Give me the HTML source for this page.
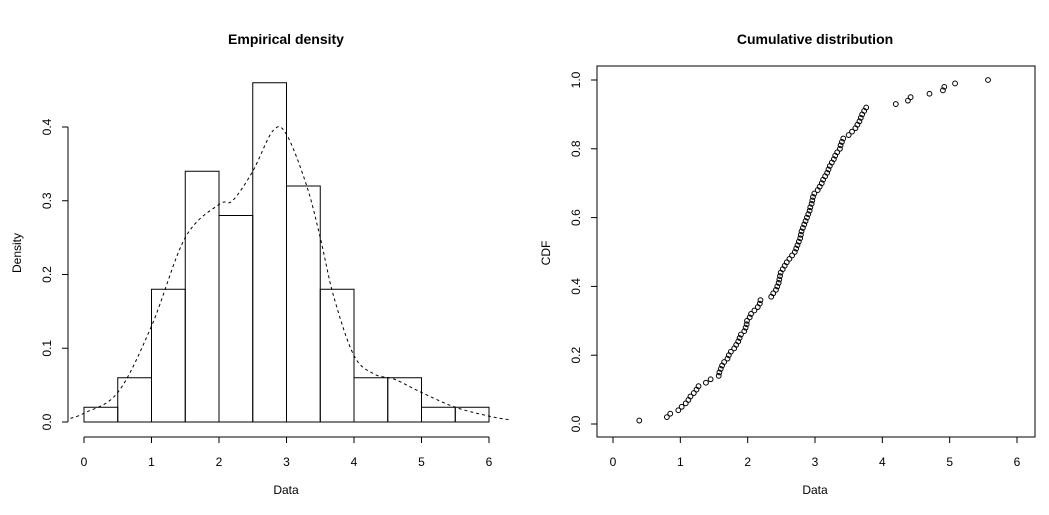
<!DOCTYPE html>
<html><head><meta charset="utf-8"><style>
body{margin:0;background:#fff}
svg text{font-family:"Liberation Sans",sans-serif;fill:#000}
</style></head><body>
<svg width="1049" height="510" viewBox="0 0 1049 510" id="fig"></svg>
<script>
// Histogram data
const binEdges=[0,0.5,1,1.5,2,2.5,3,3.5,4,4.5,5,5.5,6];
const densities=[0.02,0.06,0.18,0.34,0.28,0.46,0.32,0.18,0.06,0.06,0.02,0.02];
const kdeX=[-0.2,0,0.5,1,1.5,2,2.2,2.5,2.8,3,3.3,3.5,3.7,4,4.3,4.6,5,5.5,6,6.3];
const kdeY=[0.005,0.012,0.04,0.13,0.25,0.295,0.30,0.34,0.395,0.39,0.32,0.25,0.17,0.09,0.065,0.058,0.04,0.02,0.008,0.003];
const xTicks=[0,1,2,3,4,5,6];
const densTicks=[0.0,0.1,0.2,0.3,0.4];
const cdfTicks=[0.0,0.2,0.4,0.6,0.8,1.0];
// sorted sample for ECDF
const sample=[0.39,0.8,0.85,0.97,1.02,1.08,1.12,1.15,1.2,1.24,1.27,1.38,1.45,
1.57,1.58,1.6,1.62,1.65,1.7,1.72,1.75,1.8,1.83,1.86,1.88,1.9,1.95,1.97,1.985,1.99,
2.03,2.05,2.1,2.15,2.18,2.19,2.35,2.38,2.42,2.44,2.46,2.47,2.48,2.49,
2.52,2.55,2.58,2.62,2.66,2.7,2.72,2.74,2.76,2.78,2.79,2.8,2.82,2.84,2.86,2.88,2.9,2.92,2.93,2.95,2.96,2.97,2.99,
3.04,3.07,3.1,3.12,3.15,3.18,3.2,3.22,3.25,3.28,3.3,3.33,3.37,3.38,3.4,3.42,
3.5,3.55,3.6,3.63,3.66,3.68,3.7,3.73,3.76,
4.2,4.38,4.42,4.7,4.9,4.92,5.08,5.57];

const svg=document.getElementById('fig');
const NS='http://www.w3.org/2000/svg';
function mk(tag,attrs,parent,text){const e=document.createElementNS(NS,tag);for(const k in attrs)e.setAttribute(k,attrs[k]);if(text!==undefined)e.textContent=text;(parent||svg).appendChild(e);return e;}

// Left panel scales
const lx=v=>84+v*(489-84)/6;
const ly=v=>422-v*(422-127)/0.4;
// Right panel scales
const rx=v=>613+v*(1017-613)/6;
const ry=v=>424-v*(424-80);

// ---- Left panel
const gL=mk('g',{});


let t=mk('text',{x:286,y:44,'text-anchor':'middle','font-size':14,'font-weight':'bold'},gL,'Empirical density');

densities.forEach((d,i)=>{
  const r=mk('rect',{x:lx(binEdges[i]),y:ly(d),width:lx(binEdges[i+1])-lx(binEdges[i]),height:ly(0)-ly(d),fill:'none',stroke:'#000','stroke-width':1},gL);
  
  
});
// smooth kde
function smoothPath(xs,ys,fx,fy){
  const p=xs.map((x,i)=>[fx(x),fy(ys[i])]);
  let d='M'+p[0][0]+','+p[0][1];
  for(let i=0;i<p.length-1;i++){
    const p0=p[Math.max(0,i-1)],p1=p[i],p2=p[i+1],p3=p[Math.min(p.length-1,i+2)];
    const c1=[p1[0]+(p2[0]-p0[0])/6,p1[1]+(p2[1]-p0[1])/6];
    const c2=[p2[0]-(p3[0]-p1[0])/6,p2[1]-(p3[1]-p1[1])/6];
    d+=` C${c1[0]},${c1[1]} ${c2[0]},${c2[1]} ${p2[0]},${p2[1]}`;
  }
  return d;
}
let kde=mk('path',{d:smoothPath(kdeX,kdeY,lx,ly),fill:'none',stroke:'#000','stroke-width':1,'stroke-dasharray':'3,3'},gL);

// axes
let ax=mk('g',{},gL);
mk('line',{x1:lx(0),x2:lx(6),y1:437,y2:437,stroke:'#000'},ax);
xTicks.forEach(v=>{mk('line',{x1:lx(v),x2:lx(v),y1:437,y2:443,stroke:'#000'},ax);mk('text',{x:lx(v),y:466,'text-anchor':'middle','font-size':12},ax,String(v));});
t=mk('text',{x:286,y:494,'text-anchor':'middle','font-size':12},gL,'Data');
let ay=mk('g',{},gL);
mk('line',{x1:68,x2:68,y1:ly(0),y2:ly(0.4),stroke:'#000'},ay);
densTicks.forEach(v=>{mk('line',{x1:62,x2:68,y1:ly(v),y2:ly(v),stroke:'#000'},ay);mk('text',{x:0,y:0,'text-anchor':'middle','font-size':12,transform:`translate(51,${ly(v)}) rotate(-90)`},ay,v.toFixed(1));});
t=mk('text',{x:0,y:0,'text-anchor':'middle','font-size':12,fill:'#5a2060',transform:'translate(21,253) rotate(-90)'},gL,'Density');

// ---- Right panel
const gR=mk('g',{});

t=mk('text',{x:815,y:44,'text-anchor':'middle','font-size':14,'font-weight':'bold'},gR,'Cumulative distribution');

let box=mk('rect',{x:597,y:66,width:438,height:371,fill:'none',stroke:'#000'},gR);

const n=sample.length;
sample.forEach((v,i)=>{
  const c=mk('circle',{cx:rx(v),cy:ry((i+1)/n),r:2.4,fill:'none',stroke:'#000','stroke-width':1},gR);
  
  
});
ax=mk('g',{},gR);
xTicks.forEach(v=>{mk('line',{x1:rx(v),x2:rx(v),y1:437,y2:443,stroke:'#000'},ax);mk('text',{x:rx(v),y:466,'text-anchor':'middle','font-size':12},ax,String(v));});
t=mk('text',{x:815,y:494,'text-anchor':'middle','font-size':12},gR,'Data');
ay=mk('g',{},gR);
cdfTicks.forEach(v=>{mk('line',{x1:591,x2:597,y1:ry(v),y2:ry(v),stroke:'#000'},ay);mk('text',{x:0,y:0,'text-anchor':'middle','font-size':12,transform:`translate(580,${ry(v)}) rotate(-90)`},ay,v.toFixed(1));});
t=mk('text',{x:0,y:0,'text-anchor':'middle','font-size':12,transform:'translate(550,253) rotate(-90)'},gR,'CDF');
</script>
</body></html>
